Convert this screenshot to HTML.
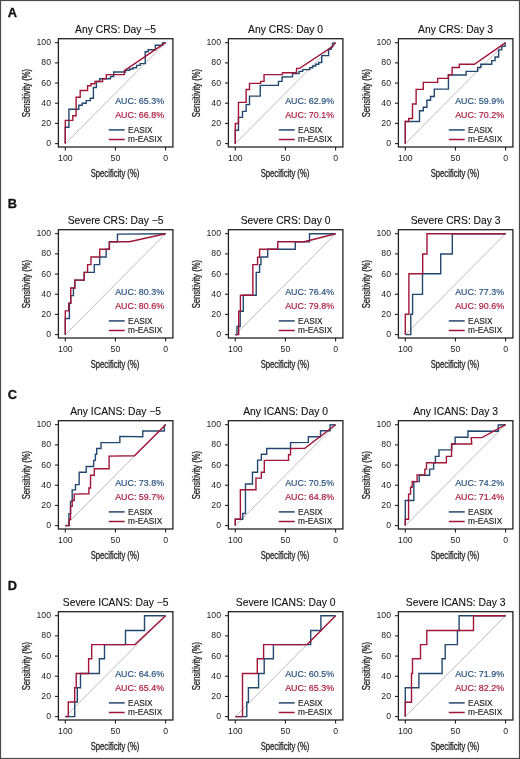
<!DOCTYPE html><html><head><meta charset="utf-8"><style>html,body{margin:0;padding:0;background:#fff}svg{display:block;will-change:transform}text{font-family:"Liberation Sans",sans-serif;font-variant-ligatures:none}</style></head><body>
<svg width="520" height="759" viewBox="0 0 520 759">
<rect x="0" y="0" width="520" height="759" fill="#fff"/>
<rect x="0.5" y="0.5" width="519" height="758" fill="none" stroke="#4a4a4a" stroke-width="1.2"/>
<text x="7.8" y="16.60" font-size="12.8" font-weight="700" fill="#111" stroke="#111" stroke-width="0.3">A</text>
<line x1="65.30" y1="143.60" x2="165.60" y2="42.70" stroke="#bababa" stroke-width="1.0"/><polyline points="65.30,143.60 65.30,127.30 68.90,127.30 68.90,109.30 78.80,109.30 78.80,105.30 82.20,105.30 82.20,103.30 86.20,103.30 86.20,100.60 90.30,100.60 90.30,98.30 93.40,98.30 93.40,87.50 96.40,87.50 96.40,81.50 99.60,81.50 99.60,78.80 110.50,78.80 110.50,76.50 113.70,76.50 113.70,72.00 125.50,72.00 125.50,70.20 129.70,70.20 129.70,69.00 132.90,69.00 132.90,67.80 136.60,67.80 136.60,65.40 140.20,65.40 140.20,63.60 145.20,63.60 145.20,51.70 148.10,51.70 148.10,49.70 155.30,49.70 155.30,45.20 162.40,45.20 162.40,43.00 165.60,42.70" fill="none" stroke="#23486f" stroke-width="1.4" stroke-linejoin="miter"/><polyline points="65.30,143.60 65.30,120.40 72.80,120.40 72.80,115.80 76.10,115.80 76.10,97.20 80.20,97.20 80.20,90.50 87.60,90.50 87.60,85.80 91.00,85.80 91.00,83.80 95.00,83.80 95.00,81.50 102.60,81.50 102.60,78.90 106.30,78.90 106.30,74.60 124.40,74.60 124.40,70.60 165.60,42.70" fill="none" stroke="#a01538" stroke-width="1.4" stroke-linejoin="miter"/><rect x="58.40" y="38.70" width="114.50" height="108.30" fill="none" stroke="#222222" stroke-width="1.3"/><line x1="55.00" y1="143.60" x2="58.40" y2="143.60" stroke="#222222" stroke-width="1.1"/><text x="51.00" y="146.10" font-size="8.7" text-anchor="end" fill="#222">0</text><line x1="55.00" y1="123.42" x2="58.40" y2="123.42" stroke="#222222" stroke-width="1.1"/><text x="51.00" y="125.92" font-size="8.7" text-anchor="end" fill="#222">20</text><line x1="55.00" y1="103.24" x2="58.40" y2="103.24" stroke="#222222" stroke-width="1.1"/><text x="51.00" y="105.74" font-size="8.7" text-anchor="end" fill="#222">40</text><line x1="55.00" y1="83.06" x2="58.40" y2="83.06" stroke="#222222" stroke-width="1.1"/><text x="51.00" y="85.56" font-size="8.7" text-anchor="end" fill="#222">60</text><line x1="55.00" y1="62.88" x2="58.40" y2="62.88" stroke="#222222" stroke-width="1.1"/><text x="51.00" y="65.38" font-size="8.7" text-anchor="end" fill="#222">80</text><line x1="55.00" y1="42.70" x2="58.40" y2="42.70" stroke="#222222" stroke-width="1.1"/><text x="51.00" y="45.20" font-size="8.7" text-anchor="end" fill="#222">100</text><line x1="65.30" y1="147.00" x2="65.30" y2="150.50" stroke="#222222" stroke-width="1.1"/><text x="65.30" y="161.00" font-size="8.7" text-anchor="middle" fill="#222">100</text><line x1="115.45" y1="147.00" x2="115.45" y2="150.50" stroke="#222222" stroke-width="1.1"/><text x="115.45" y="161.00" font-size="8.7" text-anchor="middle" fill="#222">50</text><line x1="165.60" y1="147.00" x2="165.60" y2="150.50" stroke="#222222" stroke-width="1.1"/><text x="165.60" y="161.00" font-size="8.7" text-anchor="middle" fill="#222">0</text><text x="115.60" y="32.60" font-size="10.3" text-anchor="middle" fill="#111" stroke="#111" stroke-width="0.12">Any CRS: Day −5</text><text transform="translate(115.00,176.50) scale(0.73,1)" font-size="10.5" text-anchor="middle" fill="#222" stroke="#222" stroke-width="0.3">Specificity (%)</text><text transform="translate(29.60,93.10) rotate(-90) scale(0.73,1)" font-size="10.5" text-anchor="middle" fill="#222" stroke="#222" stroke-width="0.3">Sensitivity (%)</text><text x="115.20" y="104.00" font-size="8.9" fill="#2b5380" stroke="#2b5380" stroke-width="0.2">AUC: 65.3%</text><text x="115.20" y="117.70" font-size="8.9" fill="#ac1c42" stroke="#ac1c42" stroke-width="0.2">AUC: 66.8%</text><line x1="108.80" y1="129.90" x2="124.70" y2="129.90" stroke="#23486f" stroke-width="1.5"/><line x1="108.80" y1="139.50" x2="124.70" y2="139.50" stroke="#a01538" stroke-width="1.5"/><text x="128.10" y="132.60" font-size="8.3" fill="#222" stroke="#222" stroke-width="0.15">EASIX</text><text x="128.10" y="142.20" font-size="8.3" fill="#222" stroke="#222" stroke-width="0.15">m-EASIX</text>
<line x1="235.30" y1="143.60" x2="335.60" y2="42.70" stroke="#bababa" stroke-width="1.0"/><polyline points="235.30,143.65 235.30,130.19 238.46,130.19 238.46,117.41 242.50,117.41 242.50,111.35 246.13,111.35 246.13,104.62 249.49,104.62 249.49,96.15 260.26,96.15 260.26,85.37 278.43,85.37 278.43,81.33 282.07,81.33 282.07,77.03 292.51,76.73 292.51,73.51 299.07,73.51 299.07,71.38 302.64,71.38 302.64,69.59 309.79,69.59 309.79,67.79 312.78,67.79 312.78,66.01 315.76,66.01 315.76,64.22 318.74,64.22 318.74,62.44 321.72,62.44 321.72,55.64 328.63,55.64 328.63,49.32 331.25,49.32 331.25,46.94 332.44,46.94 332.44,43.37 335.54,42.65" fill="none" stroke="#23486f" stroke-width="1.4" stroke-linejoin="miter"/><polyline points="235.30,143.65 235.30,123.46 238.46,123.46 238.46,102.33 246.13,102.33 246.13,89.55 249.49,89.55 249.49,83.35 260.67,83.35 260.67,81.33 264.04,81.33 264.04,74.60 282.47,74.60 282.47,72.73 296.33,72.73 296.68,68.39 299.66,68.39 332.44,46.58 335.54,42.65" fill="none" stroke="#a01538" stroke-width="1.4" stroke-linejoin="miter"/><rect x="228.40" y="38.70" width="114.50" height="108.30" fill="none" stroke="#222222" stroke-width="1.3"/><line x1="225.00" y1="143.60" x2="228.40" y2="143.60" stroke="#222222" stroke-width="1.1"/><text x="221.00" y="146.10" font-size="8.7" text-anchor="end" fill="#222">0</text><line x1="225.00" y1="123.42" x2="228.40" y2="123.42" stroke="#222222" stroke-width="1.1"/><text x="221.00" y="125.92" font-size="8.7" text-anchor="end" fill="#222">20</text><line x1="225.00" y1="103.24" x2="228.40" y2="103.24" stroke="#222222" stroke-width="1.1"/><text x="221.00" y="105.74" font-size="8.7" text-anchor="end" fill="#222">40</text><line x1="225.00" y1="83.06" x2="228.40" y2="83.06" stroke="#222222" stroke-width="1.1"/><text x="221.00" y="85.56" font-size="8.7" text-anchor="end" fill="#222">60</text><line x1="225.00" y1="62.88" x2="228.40" y2="62.88" stroke="#222222" stroke-width="1.1"/><text x="221.00" y="65.38" font-size="8.7" text-anchor="end" fill="#222">80</text><line x1="225.00" y1="42.70" x2="228.40" y2="42.70" stroke="#222222" stroke-width="1.1"/><text x="221.00" y="45.20" font-size="8.7" text-anchor="end" fill="#222">100</text><line x1="235.30" y1="147.00" x2="235.30" y2="150.50" stroke="#222222" stroke-width="1.1"/><text x="235.30" y="161.00" font-size="8.7" text-anchor="middle" fill="#222">100</text><line x1="285.45" y1="147.00" x2="285.45" y2="150.50" stroke="#222222" stroke-width="1.1"/><text x="285.45" y="161.00" font-size="8.7" text-anchor="middle" fill="#222">50</text><line x1="335.60" y1="147.00" x2="335.60" y2="150.50" stroke="#222222" stroke-width="1.1"/><text x="335.60" y="161.00" font-size="8.7" text-anchor="middle" fill="#222">0</text><text x="285.60" y="32.60" font-size="10.3" text-anchor="middle" fill="#111" stroke="#111" stroke-width="0.12">Any CRS: Day 0</text><text transform="translate(285.00,176.50) scale(0.73,1)" font-size="10.5" text-anchor="middle" fill="#222" stroke="#222" stroke-width="0.3">Specificity (%)</text><text transform="translate(199.60,93.10) rotate(-90) scale(0.73,1)" font-size="10.5" text-anchor="middle" fill="#222" stroke="#222" stroke-width="0.3">Sensitivity (%)</text><text x="285.20" y="104.00" font-size="8.9" fill="#2b5380" stroke="#2b5380" stroke-width="0.2">AUC: 62.9%</text><text x="285.20" y="117.70" font-size="8.9" fill="#ac1c42" stroke="#ac1c42" stroke-width="0.2">AUC: 70.1%</text><line x1="278.80" y1="129.90" x2="294.70" y2="129.90" stroke="#23486f" stroke-width="1.5"/><line x1="278.80" y1="139.50" x2="294.70" y2="139.50" stroke="#a01538" stroke-width="1.5"/><text x="298.10" y="132.60" font-size="8.3" fill="#222" stroke="#222" stroke-width="0.15">EASIX</text><text x="298.10" y="142.20" font-size="8.3" fill="#222" stroke="#222" stroke-width="0.15">m-EASIX</text>
<line x1="405.30" y1="143.60" x2="505.60" y2="42.70" stroke="#bababa" stroke-width="1.0"/><polyline points="405.30,143.65 405.30,121.44 419.49,121.44 419.49,110.68 423.26,110.68 423.26,107.32 426.89,107.32 426.89,100.18 430.54,100.18 430.54,96.55 434.30,96.55 434.30,89.14 448.43,89.14 448.43,75.01 466.09,74.95 466.09,71.38 477.66,71.38 477.66,67.56 480.76,67.56 480.76,64.22 491.72,64.22 491.72,60.65 495.06,60.65 495.06,57.07 498.63,57.07 498.63,49.91 501.85,49.91 501.85,46.34 505.07,46.34 505.07,43.37 505.54,42.65" fill="none" stroke="#23486f" stroke-width="1.4" stroke-linejoin="miter"/><polyline points="405.30,143.65 405.30,121.44 408.73,121.44 408.73,118.49 412.50,118.49 412.50,103.95 416.13,103.95 416.13,89.42 423.26,89.42 423.26,82.41 437.67,82.41 437.67,78.38 448.43,78.38 448.43,74.60 452.07,74.60 452.15,67.56 459.30,67.56 459.30,64.22 474.44,64.22 505.54,42.65" fill="none" stroke="#a01538" stroke-width="1.4" stroke-linejoin="miter"/><rect x="398.40" y="38.70" width="114.50" height="108.30" fill="none" stroke="#222222" stroke-width="1.3"/><line x1="395.00" y1="143.60" x2="398.40" y2="143.60" stroke="#222222" stroke-width="1.1"/><text x="391.00" y="146.10" font-size="8.7" text-anchor="end" fill="#222">0</text><line x1="395.00" y1="123.42" x2="398.40" y2="123.42" stroke="#222222" stroke-width="1.1"/><text x="391.00" y="125.92" font-size="8.7" text-anchor="end" fill="#222">20</text><line x1="395.00" y1="103.24" x2="398.40" y2="103.24" stroke="#222222" stroke-width="1.1"/><text x="391.00" y="105.74" font-size="8.7" text-anchor="end" fill="#222">40</text><line x1="395.00" y1="83.06" x2="398.40" y2="83.06" stroke="#222222" stroke-width="1.1"/><text x="391.00" y="85.56" font-size="8.7" text-anchor="end" fill="#222">60</text><line x1="395.00" y1="62.88" x2="398.40" y2="62.88" stroke="#222222" stroke-width="1.1"/><text x="391.00" y="65.38" font-size="8.7" text-anchor="end" fill="#222">80</text><line x1="395.00" y1="42.70" x2="398.40" y2="42.70" stroke="#222222" stroke-width="1.1"/><text x="391.00" y="45.20" font-size="8.7" text-anchor="end" fill="#222">100</text><line x1="405.30" y1="147.00" x2="405.30" y2="150.50" stroke="#222222" stroke-width="1.1"/><text x="405.30" y="161.00" font-size="8.7" text-anchor="middle" fill="#222">100</text><line x1="455.45" y1="147.00" x2="455.45" y2="150.50" stroke="#222222" stroke-width="1.1"/><text x="455.45" y="161.00" font-size="8.7" text-anchor="middle" fill="#222">50</text><line x1="505.60" y1="147.00" x2="505.60" y2="150.50" stroke="#222222" stroke-width="1.1"/><text x="505.60" y="161.00" font-size="8.7" text-anchor="middle" fill="#222">0</text><text x="455.60" y="32.60" font-size="10.3" text-anchor="middle" fill="#111" stroke="#111" stroke-width="0.12">Any CRS: Day 3</text><text transform="translate(455.00,176.50) scale(0.73,1)" font-size="10.5" text-anchor="middle" fill="#222" stroke="#222" stroke-width="0.3">Specificity (%)</text><text transform="translate(369.60,93.10) rotate(-90) scale(0.73,1)" font-size="10.5" text-anchor="middle" fill="#222" stroke="#222" stroke-width="0.3">Sensitivity (%)</text><text x="455.20" y="104.00" font-size="8.9" fill="#2b5380" stroke="#2b5380" stroke-width="0.2">AUC: 59.9%</text><text x="455.20" y="117.70" font-size="8.9" fill="#ac1c42" stroke="#ac1c42" stroke-width="0.2">AUC: 70.2%</text><line x1="448.80" y1="129.90" x2="464.70" y2="129.90" stroke="#23486f" stroke-width="1.5"/><line x1="448.80" y1="139.50" x2="464.70" y2="139.50" stroke="#a01538" stroke-width="1.5"/><text x="468.10" y="132.60" font-size="8.3" fill="#222" stroke="#222" stroke-width="0.15">EASIX</text><text x="468.10" y="142.20" font-size="8.3" fill="#222" stroke="#222" stroke-width="0.15">m-EASIX</text>
<text x="7.8" y="207.60" font-size="12.8" font-weight="700" fill="#111" stroke="#111" stroke-width="0.3">B</text>
<line x1="65.30" y1="334.60" x2="165.60" y2="233.70" stroke="#bababa" stroke-width="1.0"/><polyline points="65.30,334.65 65.30,318.51 69.40,318.51 69.40,303.29 70.75,303.29 70.75,295.62 73.44,295.62 73.44,287.95 74.79,287.95 74.79,280.14 84.21,280.14 84.21,272.33 94.30,272.33 94.30,264.67 99.68,264.67 99.68,257.00 106.14,257.00 106.14,249.19 109.37,249.19 109.37,241.78 117.45,241.78 117.45,234.11 165.60,233.70" fill="none" stroke="#23486f" stroke-width="1.4" stroke-linejoin="miter"/><polyline points="65.30,334.65 65.30,310.83 68.73,310.83 68.73,303.29 70.75,303.29 70.75,287.95 74.79,287.95 74.79,280.14 84.21,280.14 84.21,272.33 87.58,272.33 87.58,264.67 90.94,264.67 90.94,257.00 99.68,257.00 99.68,249.19 109.37,249.19 109.37,241.78 129.30,241.70 165.60,233.70" fill="none" stroke="#a01538" stroke-width="1.4" stroke-linejoin="miter"/><rect x="58.40" y="229.70" width="114.50" height="108.30" fill="none" stroke="#222222" stroke-width="1.3"/><line x1="55.00" y1="334.60" x2="58.40" y2="334.60" stroke="#222222" stroke-width="1.1"/><text x="51.00" y="337.10" font-size="8.7" text-anchor="end" fill="#222">0</text><line x1="55.00" y1="314.42" x2="58.40" y2="314.42" stroke="#222222" stroke-width="1.1"/><text x="51.00" y="316.92" font-size="8.7" text-anchor="end" fill="#222">20</text><line x1="55.00" y1="294.24" x2="58.40" y2="294.24" stroke="#222222" stroke-width="1.1"/><text x="51.00" y="296.74" font-size="8.7" text-anchor="end" fill="#222">40</text><line x1="55.00" y1="274.06" x2="58.40" y2="274.06" stroke="#222222" stroke-width="1.1"/><text x="51.00" y="276.56" font-size="8.7" text-anchor="end" fill="#222">60</text><line x1="55.00" y1="253.88" x2="58.40" y2="253.88" stroke="#222222" stroke-width="1.1"/><text x="51.00" y="256.38" font-size="8.7" text-anchor="end" fill="#222">80</text><line x1="55.00" y1="233.70" x2="58.40" y2="233.70" stroke="#222222" stroke-width="1.1"/><text x="51.00" y="236.20" font-size="8.7" text-anchor="end" fill="#222">100</text><line x1="65.30" y1="338.00" x2="65.30" y2="341.50" stroke="#222222" stroke-width="1.1"/><text x="65.30" y="352.00" font-size="8.7" text-anchor="middle" fill="#222">100</text><line x1="115.45" y1="338.00" x2="115.45" y2="341.50" stroke="#222222" stroke-width="1.1"/><text x="115.45" y="352.00" font-size="8.7" text-anchor="middle" fill="#222">50</text><line x1="165.60" y1="338.00" x2="165.60" y2="341.50" stroke="#222222" stroke-width="1.1"/><text x="165.60" y="352.00" font-size="8.7" text-anchor="middle" fill="#222">0</text><text x="115.60" y="223.60" font-size="10.3" text-anchor="middle" fill="#111" stroke="#111" stroke-width="0.12">Severe CRS: Day −5</text><text transform="translate(115.00,367.50) scale(0.73,1)" font-size="10.5" text-anchor="middle" fill="#222" stroke="#222" stroke-width="0.3">Specificity (%)</text><text transform="translate(29.60,284.10) rotate(-90) scale(0.73,1)" font-size="10.5" text-anchor="middle" fill="#222" stroke="#222" stroke-width="0.3">Sensitivity (%)</text><text x="115.20" y="295.00" font-size="8.9" fill="#2b5380" stroke="#2b5380" stroke-width="0.2">AUC: 80.3%</text><text x="115.20" y="308.70" font-size="8.9" fill="#ac1c42" stroke="#ac1c42" stroke-width="0.2">AUC: 80.6%</text><line x1="108.80" y1="320.90" x2="124.70" y2="320.90" stroke="#23486f" stroke-width="1.5"/><line x1="108.80" y1="330.50" x2="124.70" y2="330.50" stroke="#a01538" stroke-width="1.5"/><text x="128.10" y="323.60" font-size="8.3" fill="#222" stroke="#222" stroke-width="0.15">EASIX</text><text x="128.10" y="333.20" font-size="8.3" fill="#222" stroke="#222" stroke-width="0.15">m-EASIX</text>
<line x1="235.30" y1="334.60" x2="335.60" y2="233.70" stroke="#bababa" stroke-width="1.0"/><polyline points="235.30,334.60 237.00,334.60 237.00,326.50 240.20,326.50 240.20,311.20 243.30,311.20 243.30,295.20 256.22,295.22 256.22,272.33 259.59,272.33 259.59,264.67 260.94,264.67 260.94,257.00 267.67,257.00 267.67,249.19 295.26,249.19 295.26,241.78 309.50,241.70 309.50,233.80 335.60,233.70" fill="none" stroke="#23486f" stroke-width="1.4" stroke-linejoin="miter"/><polyline points="235.30,334.60 238.70,334.60 238.70,311.30 240.40,311.30 240.40,295.20 252.86,295.22 252.86,264.67 257.58,264.67 257.58,257.26 259.59,257.26 259.59,249.19 277.76,249.19 277.76,241.78 304.00,241.70 309.30,240.50 335.60,233.70" fill="none" stroke="#a01538" stroke-width="1.4" stroke-linejoin="miter"/><rect x="228.40" y="229.70" width="114.50" height="108.30" fill="none" stroke="#222222" stroke-width="1.3"/><line x1="225.00" y1="334.60" x2="228.40" y2="334.60" stroke="#222222" stroke-width="1.1"/><text x="221.00" y="337.10" font-size="8.7" text-anchor="end" fill="#222">0</text><line x1="225.00" y1="314.42" x2="228.40" y2="314.42" stroke="#222222" stroke-width="1.1"/><text x="221.00" y="316.92" font-size="8.7" text-anchor="end" fill="#222">20</text><line x1="225.00" y1="294.24" x2="228.40" y2="294.24" stroke="#222222" stroke-width="1.1"/><text x="221.00" y="296.74" font-size="8.7" text-anchor="end" fill="#222">40</text><line x1="225.00" y1="274.06" x2="228.40" y2="274.06" stroke="#222222" stroke-width="1.1"/><text x="221.00" y="276.56" font-size="8.7" text-anchor="end" fill="#222">60</text><line x1="225.00" y1="253.88" x2="228.40" y2="253.88" stroke="#222222" stroke-width="1.1"/><text x="221.00" y="256.38" font-size="8.7" text-anchor="end" fill="#222">80</text><line x1="225.00" y1="233.70" x2="228.40" y2="233.70" stroke="#222222" stroke-width="1.1"/><text x="221.00" y="236.20" font-size="8.7" text-anchor="end" fill="#222">100</text><line x1="235.30" y1="338.00" x2="235.30" y2="341.50" stroke="#222222" stroke-width="1.1"/><text x="235.30" y="352.00" font-size="8.7" text-anchor="middle" fill="#222">100</text><line x1="285.45" y1="338.00" x2="285.45" y2="341.50" stroke="#222222" stroke-width="1.1"/><text x="285.45" y="352.00" font-size="8.7" text-anchor="middle" fill="#222">50</text><line x1="335.60" y1="338.00" x2="335.60" y2="341.50" stroke="#222222" stroke-width="1.1"/><text x="335.60" y="352.00" font-size="8.7" text-anchor="middle" fill="#222">0</text><text x="285.60" y="223.60" font-size="10.3" text-anchor="middle" fill="#111" stroke="#111" stroke-width="0.12">Severe CRS: Day 0</text><text transform="translate(285.00,367.50) scale(0.73,1)" font-size="10.5" text-anchor="middle" fill="#222" stroke="#222" stroke-width="0.3">Specificity (%)</text><text transform="translate(199.60,284.10) rotate(-90) scale(0.73,1)" font-size="10.5" text-anchor="middle" fill="#222" stroke="#222" stroke-width="0.3">Sensitivity (%)</text><text x="285.20" y="295.00" font-size="8.9" fill="#2b5380" stroke="#2b5380" stroke-width="0.2">AUC: 76.4%</text><text x="285.20" y="308.70" font-size="8.9" fill="#ac1c42" stroke="#ac1c42" stroke-width="0.2">AUC: 79.8%</text><line x1="278.80" y1="320.90" x2="294.70" y2="320.90" stroke="#23486f" stroke-width="1.5"/><line x1="278.80" y1="330.50" x2="294.70" y2="330.50" stroke="#a01538" stroke-width="1.5"/><text x="298.10" y="323.60" font-size="8.3" fill="#222" stroke="#222" stroke-width="0.15">EASIX</text><text x="298.10" y="333.20" font-size="8.3" fill="#222" stroke="#222" stroke-width="0.15">m-EASIX</text>
<line x1="405.30" y1="334.60" x2="505.60" y2="233.70" stroke="#bababa" stroke-width="1.0"/><polyline points="405.30,334.60 410.80,334.60 410.80,314.30 412.60,314.30 412.60,294.40 422.50,294.40 422.50,273.80 440.70,273.80 440.70,254.00 452.30,254.00 452.30,233.70 505.60,233.70" fill="none" stroke="#23486f" stroke-width="1.4" stroke-linejoin="miter"/><polyline points="405.30,334.60 405.30,314.30 408.90,314.30 408.90,273.80 422.70,273.80 422.70,254.00 427.00,254.00 427.00,233.70 505.60,233.70" fill="none" stroke="#a01538" stroke-width="1.4" stroke-linejoin="miter"/><rect x="398.40" y="229.70" width="114.50" height="108.30" fill="none" stroke="#222222" stroke-width="1.3"/><line x1="395.00" y1="334.60" x2="398.40" y2="334.60" stroke="#222222" stroke-width="1.1"/><text x="391.00" y="337.10" font-size="8.7" text-anchor="end" fill="#222">0</text><line x1="395.00" y1="314.42" x2="398.40" y2="314.42" stroke="#222222" stroke-width="1.1"/><text x="391.00" y="316.92" font-size="8.7" text-anchor="end" fill="#222">20</text><line x1="395.00" y1="294.24" x2="398.40" y2="294.24" stroke="#222222" stroke-width="1.1"/><text x="391.00" y="296.74" font-size="8.7" text-anchor="end" fill="#222">40</text><line x1="395.00" y1="274.06" x2="398.40" y2="274.06" stroke="#222222" stroke-width="1.1"/><text x="391.00" y="276.56" font-size="8.7" text-anchor="end" fill="#222">60</text><line x1="395.00" y1="253.88" x2="398.40" y2="253.88" stroke="#222222" stroke-width="1.1"/><text x="391.00" y="256.38" font-size="8.7" text-anchor="end" fill="#222">80</text><line x1="395.00" y1="233.70" x2="398.40" y2="233.70" stroke="#222222" stroke-width="1.1"/><text x="391.00" y="236.20" font-size="8.7" text-anchor="end" fill="#222">100</text><line x1="405.30" y1="338.00" x2="405.30" y2="341.50" stroke="#222222" stroke-width="1.1"/><text x="405.30" y="352.00" font-size="8.7" text-anchor="middle" fill="#222">100</text><line x1="455.45" y1="338.00" x2="455.45" y2="341.50" stroke="#222222" stroke-width="1.1"/><text x="455.45" y="352.00" font-size="8.7" text-anchor="middle" fill="#222">50</text><line x1="505.60" y1="338.00" x2="505.60" y2="341.50" stroke="#222222" stroke-width="1.1"/><text x="505.60" y="352.00" font-size="8.7" text-anchor="middle" fill="#222">0</text><text x="455.60" y="223.60" font-size="10.3" text-anchor="middle" fill="#111" stroke="#111" stroke-width="0.12">Severe CRS: Day 3</text><text transform="translate(455.00,367.50) scale(0.73,1)" font-size="10.5" text-anchor="middle" fill="#222" stroke="#222" stroke-width="0.3">Specificity (%)</text><text transform="translate(369.60,284.10) rotate(-90) scale(0.73,1)" font-size="10.5" text-anchor="middle" fill="#222" stroke="#222" stroke-width="0.3">Sensitivity (%)</text><text x="455.20" y="295.00" font-size="8.9" fill="#2b5380" stroke="#2b5380" stroke-width="0.2">AUC: 77.3%</text><text x="455.20" y="308.70" font-size="8.9" fill="#ac1c42" stroke="#ac1c42" stroke-width="0.2">AUC: 90.6%</text><line x1="448.80" y1="320.90" x2="464.70" y2="320.90" stroke="#23486f" stroke-width="1.5"/><line x1="448.80" y1="330.50" x2="464.70" y2="330.50" stroke="#a01538" stroke-width="1.5"/><text x="468.10" y="323.60" font-size="8.3" fill="#222" stroke="#222" stroke-width="0.15">EASIX</text><text x="468.10" y="333.20" font-size="8.3" fill="#222" stroke="#222" stroke-width="0.15">m-EASIX</text>
<text x="7.8" y="398.60" font-size="12.8" font-weight="700" fill="#111" stroke="#111" stroke-width="0.3">C</text>
<line x1="65.30" y1="525.60" x2="165.60" y2="424.70" stroke="#bababa" stroke-width="1.0"/><polyline points="65.30,525.62 68.90,525.62 68.90,513.62 70.55,513.62 70.55,501.42 72.19,501.42 72.19,489.89 75.49,489.89 75.49,484.61 79.12,484.61 79.23,472.22 86.22,472.22 86.22,466.43 93.62,466.43 93.62,460.38 95.38,460.38 95.38,454.32 96.72,454.32 96.72,448.53 101.03,448.53 101.03,442.61 119.87,442.61 119.87,436.42 142.78,436.69 142.78,430.97 164.24,430.97 164.24,425.37 165.60,424.70" fill="none" stroke="#23486f" stroke-width="1.4" stroke-linejoin="miter"/><polyline points="65.30,525.62 69.23,525.62 69.23,519.22 70.55,519.22 70.55,506.37 72.19,506.37 72.19,500.44 74.18,500.44 74.18,494.17 88.92,493.76 88.92,487.96 90.54,487.96 90.54,475.18 94.30,475.18 94.30,468.72 109.11,468.72 109.11,456.07 134.44,455.76 165.60,424.70" fill="none" stroke="#a01538" stroke-width="1.4" stroke-linejoin="miter"/><rect x="58.40" y="420.70" width="114.50" height="108.30" fill="none" stroke="#222222" stroke-width="1.3"/><line x1="55.00" y1="525.60" x2="58.40" y2="525.60" stroke="#222222" stroke-width="1.1"/><text x="51.00" y="528.10" font-size="8.7" text-anchor="end" fill="#222">0</text><line x1="55.00" y1="505.42" x2="58.40" y2="505.42" stroke="#222222" stroke-width="1.1"/><text x="51.00" y="507.92" font-size="8.7" text-anchor="end" fill="#222">20</text><line x1="55.00" y1="485.24" x2="58.40" y2="485.24" stroke="#222222" stroke-width="1.1"/><text x="51.00" y="487.74" font-size="8.7" text-anchor="end" fill="#222">40</text><line x1="55.00" y1="465.06" x2="58.40" y2="465.06" stroke="#222222" stroke-width="1.1"/><text x="51.00" y="467.56" font-size="8.7" text-anchor="end" fill="#222">60</text><line x1="55.00" y1="444.88" x2="58.40" y2="444.88" stroke="#222222" stroke-width="1.1"/><text x="51.00" y="447.38" font-size="8.7" text-anchor="end" fill="#222">80</text><line x1="55.00" y1="424.70" x2="58.40" y2="424.70" stroke="#222222" stroke-width="1.1"/><text x="51.00" y="427.20" font-size="8.7" text-anchor="end" fill="#222">100</text><line x1="65.30" y1="529.00" x2="65.30" y2="532.50" stroke="#222222" stroke-width="1.1"/><text x="65.30" y="543.00" font-size="8.7" text-anchor="middle" fill="#222">100</text><line x1="115.45" y1="529.00" x2="115.45" y2="532.50" stroke="#222222" stroke-width="1.1"/><text x="115.45" y="543.00" font-size="8.7" text-anchor="middle" fill="#222">50</text><line x1="165.60" y1="529.00" x2="165.60" y2="532.50" stroke="#222222" stroke-width="1.1"/><text x="165.60" y="543.00" font-size="8.7" text-anchor="middle" fill="#222">0</text><text x="115.60" y="414.60" font-size="10.3" text-anchor="middle" fill="#111" stroke="#111" stroke-width="0.12">Any ICANS: Day −5</text><text transform="translate(115.00,558.50) scale(0.73,1)" font-size="10.5" text-anchor="middle" fill="#222" stroke="#222" stroke-width="0.3">Specificity (%)</text><text transform="translate(29.60,475.10) rotate(-90) scale(0.73,1)" font-size="10.5" text-anchor="middle" fill="#222" stroke="#222" stroke-width="0.3">Sensitivity (%)</text><text x="115.20" y="486.00" font-size="8.9" fill="#2b5380" stroke="#2b5380" stroke-width="0.2">AUC: 73.8%</text><text x="115.20" y="499.70" font-size="8.9" fill="#ac1c42" stroke="#ac1c42" stroke-width="0.2">AUC: 59.7%</text><line x1="108.80" y1="511.90" x2="124.70" y2="511.90" stroke="#23486f" stroke-width="1.5"/><line x1="108.80" y1="521.50" x2="124.70" y2="521.50" stroke="#a01538" stroke-width="1.5"/><text x="128.10" y="514.60" font-size="8.3" fill="#222" stroke="#222" stroke-width="0.15">EASIX</text><text x="128.10" y="524.20" font-size="8.3" fill="#222" stroke="#222" stroke-width="0.15">m-EASIX</text>
<line x1="235.30" y1="525.60" x2="335.60" y2="424.70" stroke="#bababa" stroke-width="1.0"/><polyline points="235.30,525.60 235.30,519.30 242.70,519.30 242.70,513.50 245.50,513.50 245.46,483.93 252.46,483.93 252.46,472.22 257.58,472.22 257.58,460.11 261.34,460.11 261.34,454.32 266.72,454.32 266.72,448.53 290.55,448.53 290.55,442.61 308.37,442.41 308.37,436.69 320.52,436.69 320.52,430.72 330.06,430.72 330.06,425.00 335.60,424.70" fill="none" stroke="#23486f" stroke-width="1.4" stroke-linejoin="miter"/><polyline points="235.30,525.60 235.30,519.30 240.40,519.30 240.35,489.72 255.96,489.72 255.96,478.15 261.34,478.15 261.34,472.22 264.30,472.22 264.30,460.38 288.53,460.38 288.53,454.73 290.55,454.73 290.55,448.53 304.79,448.37 335.60,424.70" fill="none" stroke="#a01538" stroke-width="1.4" stroke-linejoin="miter"/><rect x="228.40" y="420.70" width="114.50" height="108.30" fill="none" stroke="#222222" stroke-width="1.3"/><line x1="225.00" y1="525.60" x2="228.40" y2="525.60" stroke="#222222" stroke-width="1.1"/><text x="221.00" y="528.10" font-size="8.7" text-anchor="end" fill="#222">0</text><line x1="225.00" y1="505.42" x2="228.40" y2="505.42" stroke="#222222" stroke-width="1.1"/><text x="221.00" y="507.92" font-size="8.7" text-anchor="end" fill="#222">20</text><line x1="225.00" y1="485.24" x2="228.40" y2="485.24" stroke="#222222" stroke-width="1.1"/><text x="221.00" y="487.74" font-size="8.7" text-anchor="end" fill="#222">40</text><line x1="225.00" y1="465.06" x2="228.40" y2="465.06" stroke="#222222" stroke-width="1.1"/><text x="221.00" y="467.56" font-size="8.7" text-anchor="end" fill="#222">60</text><line x1="225.00" y1="444.88" x2="228.40" y2="444.88" stroke="#222222" stroke-width="1.1"/><text x="221.00" y="447.38" font-size="8.7" text-anchor="end" fill="#222">80</text><line x1="225.00" y1="424.70" x2="228.40" y2="424.70" stroke="#222222" stroke-width="1.1"/><text x="221.00" y="427.20" font-size="8.7" text-anchor="end" fill="#222">100</text><line x1="235.30" y1="529.00" x2="235.30" y2="532.50" stroke="#222222" stroke-width="1.1"/><text x="235.30" y="543.00" font-size="8.7" text-anchor="middle" fill="#222">100</text><line x1="285.45" y1="529.00" x2="285.45" y2="532.50" stroke="#222222" stroke-width="1.1"/><text x="285.45" y="543.00" font-size="8.7" text-anchor="middle" fill="#222">50</text><line x1="335.60" y1="529.00" x2="335.60" y2="532.50" stroke="#222222" stroke-width="1.1"/><text x="335.60" y="543.00" font-size="8.7" text-anchor="middle" fill="#222">0</text><text x="285.60" y="414.60" font-size="10.3" text-anchor="middle" fill="#111" stroke="#111" stroke-width="0.12">Any ICANS: Day 0</text><text transform="translate(285.00,558.50) scale(0.73,1)" font-size="10.5" text-anchor="middle" fill="#222" stroke="#222" stroke-width="0.3">Specificity (%)</text><text transform="translate(199.60,475.10) rotate(-90) scale(0.73,1)" font-size="10.5" text-anchor="middle" fill="#222" stroke="#222" stroke-width="0.3">Sensitivity (%)</text><text x="285.20" y="486.00" font-size="8.9" fill="#2b5380" stroke="#2b5380" stroke-width="0.2">AUC: 70.5%</text><text x="285.20" y="499.70" font-size="8.9" fill="#ac1c42" stroke="#ac1c42" stroke-width="0.2">AUC: 64.8%</text><line x1="278.80" y1="511.90" x2="294.70" y2="511.90" stroke="#23486f" stroke-width="1.5"/><line x1="278.80" y1="521.50" x2="294.70" y2="521.50" stroke="#a01538" stroke-width="1.5"/><text x="298.10" y="514.60" font-size="8.3" fill="#222" stroke="#222" stroke-width="0.15">EASIX</text><text x="298.10" y="524.20" font-size="8.3" fill="#222" stroke="#222" stroke-width="0.15">m-EASIX</text>
<line x1="405.30" y1="525.60" x2="505.60" y2="424.70" stroke="#bababa" stroke-width="1.0"/><polyline points="405.30,525.62 405.30,500.44 413.85,500.44 413.85,481.64 419.23,481.64 419.23,475.18 429.59,475.18 429.59,469.13 433.62,469.13 433.62,462.80 435.38,462.80 435.38,456.34 439.01,456.34 439.01,449.87 451.80,449.87 451.80,443.96 455.16,443.96 455.16,437.23 467.95,437.23 467.95,431.04 498.27,431.32 498.27,425.00 505.60,424.70" fill="none" stroke="#23486f" stroke-width="1.4" stroke-linejoin="miter"/><polyline points="405.30,525.62 405.30,519.22 408.57,519.22 408.57,494.17 410.55,494.17 410.55,487.25 412.19,487.25 412.19,481.45 417.08,481.64 417.08,474.91 424.88,474.91 424.88,469.13 426.49,469.13 426.49,462.80 446.41,462.80 446.41,456.34 451.53,456.34 451.53,443.96 471.72,443.96 471.22,437.64 481.94,437.64 505.60,424.70" fill="none" stroke="#a01538" stroke-width="1.4" stroke-linejoin="miter"/><rect x="398.40" y="420.70" width="114.50" height="108.30" fill="none" stroke="#222222" stroke-width="1.3"/><line x1="395.00" y1="525.60" x2="398.40" y2="525.60" stroke="#222222" stroke-width="1.1"/><text x="391.00" y="528.10" font-size="8.7" text-anchor="end" fill="#222">0</text><line x1="395.00" y1="505.42" x2="398.40" y2="505.42" stroke="#222222" stroke-width="1.1"/><text x="391.00" y="507.92" font-size="8.7" text-anchor="end" fill="#222">20</text><line x1="395.00" y1="485.24" x2="398.40" y2="485.24" stroke="#222222" stroke-width="1.1"/><text x="391.00" y="487.74" font-size="8.7" text-anchor="end" fill="#222">40</text><line x1="395.00" y1="465.06" x2="398.40" y2="465.06" stroke="#222222" stroke-width="1.1"/><text x="391.00" y="467.56" font-size="8.7" text-anchor="end" fill="#222">60</text><line x1="395.00" y1="444.88" x2="398.40" y2="444.88" stroke="#222222" stroke-width="1.1"/><text x="391.00" y="447.38" font-size="8.7" text-anchor="end" fill="#222">80</text><line x1="395.00" y1="424.70" x2="398.40" y2="424.70" stroke="#222222" stroke-width="1.1"/><text x="391.00" y="427.20" font-size="8.7" text-anchor="end" fill="#222">100</text><line x1="405.30" y1="529.00" x2="405.30" y2="532.50" stroke="#222222" stroke-width="1.1"/><text x="405.30" y="543.00" font-size="8.7" text-anchor="middle" fill="#222">100</text><line x1="455.45" y1="529.00" x2="455.45" y2="532.50" stroke="#222222" stroke-width="1.1"/><text x="455.45" y="543.00" font-size="8.7" text-anchor="middle" fill="#222">50</text><line x1="505.60" y1="529.00" x2="505.60" y2="532.50" stroke="#222222" stroke-width="1.1"/><text x="505.60" y="543.00" font-size="8.7" text-anchor="middle" fill="#222">0</text><text x="455.60" y="414.60" font-size="10.3" text-anchor="middle" fill="#111" stroke="#111" stroke-width="0.12">Any ICANS: Day 3</text><text transform="translate(455.00,558.50) scale(0.73,1)" font-size="10.5" text-anchor="middle" fill="#222" stroke="#222" stroke-width="0.3">Specificity (%)</text><text transform="translate(369.60,475.10) rotate(-90) scale(0.73,1)" font-size="10.5" text-anchor="middle" fill="#222" stroke="#222" stroke-width="0.3">Sensitivity (%)</text><text x="455.20" y="486.00" font-size="8.9" fill="#2b5380" stroke="#2b5380" stroke-width="0.2">AUC: 74.2%</text><text x="455.20" y="499.70" font-size="8.9" fill="#ac1c42" stroke="#ac1c42" stroke-width="0.2">AUC: 71.4%</text><line x1="448.80" y1="511.90" x2="464.70" y2="511.90" stroke="#23486f" stroke-width="1.5"/><line x1="448.80" y1="521.50" x2="464.70" y2="521.50" stroke="#a01538" stroke-width="1.5"/><text x="468.10" y="514.60" font-size="8.3" fill="#222" stroke="#222" stroke-width="0.15">EASIX</text><text x="468.10" y="524.20" font-size="8.3" fill="#222" stroke="#222" stroke-width="0.15">m-EASIX</text>
<text x="7.8" y="589.60" font-size="12.8" font-weight="700" fill="#111" stroke="#111" stroke-width="0.3">D</text>
<line x1="65.30" y1="716.60" x2="165.60" y2="615.70" stroke="#bababa" stroke-width="1.0"/><polyline points="65.30,716.60 74.70,716.60 74.70,702.00 77.30,702.00 77.30,687.70 80.50,687.70 80.50,673.50 99.40,673.50 99.40,658.80 104.50,658.80 104.50,644.60 125.50,644.60 125.50,630.50 144.50,630.50 144.50,615.70 165.60,615.70" fill="none" stroke="#23486f" stroke-width="1.4" stroke-linejoin="miter"/><polyline points="65.30,716.60 68.30,716.60 68.30,702.00 74.70,702.00 74.70,687.70 76.20,687.70 76.20,673.50 88.60,673.50 88.60,658.80 91.70,658.80 91.70,644.60 135.00,644.60 165.60,615.70" fill="none" stroke="#a01538" stroke-width="1.4" stroke-linejoin="miter"/><rect x="58.40" y="611.70" width="114.50" height="108.30" fill="none" stroke="#222222" stroke-width="1.3"/><line x1="55.00" y1="716.60" x2="58.40" y2="716.60" stroke="#222222" stroke-width="1.1"/><text x="51.00" y="719.10" font-size="8.7" text-anchor="end" fill="#222">0</text><line x1="55.00" y1="696.42" x2="58.40" y2="696.42" stroke="#222222" stroke-width="1.1"/><text x="51.00" y="698.92" font-size="8.7" text-anchor="end" fill="#222">20</text><line x1="55.00" y1="676.24" x2="58.40" y2="676.24" stroke="#222222" stroke-width="1.1"/><text x="51.00" y="678.74" font-size="8.7" text-anchor="end" fill="#222">40</text><line x1="55.00" y1="656.06" x2="58.40" y2="656.06" stroke="#222222" stroke-width="1.1"/><text x="51.00" y="658.56" font-size="8.7" text-anchor="end" fill="#222">60</text><line x1="55.00" y1="635.88" x2="58.40" y2="635.88" stroke="#222222" stroke-width="1.1"/><text x="51.00" y="638.38" font-size="8.7" text-anchor="end" fill="#222">80</text><line x1="55.00" y1="615.70" x2="58.40" y2="615.70" stroke="#222222" stroke-width="1.1"/><text x="51.00" y="618.20" font-size="8.7" text-anchor="end" fill="#222">100</text><line x1="65.30" y1="720.00" x2="65.30" y2="723.50" stroke="#222222" stroke-width="1.1"/><text x="65.30" y="734.00" font-size="8.7" text-anchor="middle" fill="#222">100</text><line x1="115.45" y1="720.00" x2="115.45" y2="723.50" stroke="#222222" stroke-width="1.1"/><text x="115.45" y="734.00" font-size="8.7" text-anchor="middle" fill="#222">50</text><line x1="165.60" y1="720.00" x2="165.60" y2="723.50" stroke="#222222" stroke-width="1.1"/><text x="165.60" y="734.00" font-size="8.7" text-anchor="middle" fill="#222">0</text><text x="115.60" y="605.60" font-size="10.3" text-anchor="middle" fill="#111" stroke="#111" stroke-width="0.12">Severe ICANS: Day −5</text><text transform="translate(115.00,749.50) scale(0.73,1)" font-size="10.5" text-anchor="middle" fill="#222" stroke="#222" stroke-width="0.3">Specificity (%)</text><text transform="translate(29.60,666.10) rotate(-90) scale(0.73,1)" font-size="10.5" text-anchor="middle" fill="#222" stroke="#222" stroke-width="0.3">Sensitivity (%)</text><text x="115.20" y="677.00" font-size="8.9" fill="#2b5380" stroke="#2b5380" stroke-width="0.2">AUC: 64.6%</text><text x="115.20" y="690.70" font-size="8.9" fill="#ac1c42" stroke="#ac1c42" stroke-width="0.2">AUC: 65.4%</text><line x1="108.80" y1="702.90" x2="124.70" y2="702.90" stroke="#23486f" stroke-width="1.5"/><line x1="108.80" y1="712.50" x2="124.70" y2="712.50" stroke="#a01538" stroke-width="1.5"/><text x="128.10" y="705.60" font-size="8.3" fill="#222" stroke="#222" stroke-width="0.15">EASIX</text><text x="128.10" y="715.20" font-size="8.3" fill="#222" stroke="#222" stroke-width="0.15">m-EASIX</text>
<line x1="235.30" y1="716.60" x2="335.60" y2="615.70" stroke="#bababa" stroke-width="1.0"/><polyline points="235.30,716.60 246.80,716.60 246.80,702.20 248.40,702.20 248.40,687.70 258.60,687.70 258.60,673.50 264.20,673.50 264.20,658.80 273.40,658.80 273.40,644.60 310.70,644.60 310.70,630.50 320.90,630.50 320.90,615.70 335.60,615.70" fill="none" stroke="#23486f" stroke-width="1.4" stroke-linejoin="miter"/><polyline points="235.30,716.60 242.50,716.60 242.50,673.50 257.30,673.50 257.30,658.80 263.60,658.80 263.60,644.60 307.10,644.60 335.60,615.70" fill="none" stroke="#a01538" stroke-width="1.4" stroke-linejoin="miter"/><rect x="228.40" y="611.70" width="114.50" height="108.30" fill="none" stroke="#222222" stroke-width="1.3"/><line x1="225.00" y1="716.60" x2="228.40" y2="716.60" stroke="#222222" stroke-width="1.1"/><text x="221.00" y="719.10" font-size="8.7" text-anchor="end" fill="#222">0</text><line x1="225.00" y1="696.42" x2="228.40" y2="696.42" stroke="#222222" stroke-width="1.1"/><text x="221.00" y="698.92" font-size="8.7" text-anchor="end" fill="#222">20</text><line x1="225.00" y1="676.24" x2="228.40" y2="676.24" stroke="#222222" stroke-width="1.1"/><text x="221.00" y="678.74" font-size="8.7" text-anchor="end" fill="#222">40</text><line x1="225.00" y1="656.06" x2="228.40" y2="656.06" stroke="#222222" stroke-width="1.1"/><text x="221.00" y="658.56" font-size="8.7" text-anchor="end" fill="#222">60</text><line x1="225.00" y1="635.88" x2="228.40" y2="635.88" stroke="#222222" stroke-width="1.1"/><text x="221.00" y="638.38" font-size="8.7" text-anchor="end" fill="#222">80</text><line x1="225.00" y1="615.70" x2="228.40" y2="615.70" stroke="#222222" stroke-width="1.1"/><text x="221.00" y="618.20" font-size="8.7" text-anchor="end" fill="#222">100</text><line x1="235.30" y1="720.00" x2="235.30" y2="723.50" stroke="#222222" stroke-width="1.1"/><text x="235.30" y="734.00" font-size="8.7" text-anchor="middle" fill="#222">100</text><line x1="285.45" y1="720.00" x2="285.45" y2="723.50" stroke="#222222" stroke-width="1.1"/><text x="285.45" y="734.00" font-size="8.7" text-anchor="middle" fill="#222">50</text><line x1="335.60" y1="720.00" x2="335.60" y2="723.50" stroke="#222222" stroke-width="1.1"/><text x="335.60" y="734.00" font-size="8.7" text-anchor="middle" fill="#222">0</text><text x="285.60" y="605.60" font-size="10.3" text-anchor="middle" fill="#111" stroke="#111" stroke-width="0.12">Severe ICANS: Day 0</text><text transform="translate(285.00,749.50) scale(0.73,1)" font-size="10.5" text-anchor="middle" fill="#222" stroke="#222" stroke-width="0.3">Specificity (%)</text><text transform="translate(199.60,666.10) rotate(-90) scale(0.73,1)" font-size="10.5" text-anchor="middle" fill="#222" stroke="#222" stroke-width="0.3">Sensitivity (%)</text><text x="285.20" y="677.00" font-size="8.9" fill="#2b5380" stroke="#2b5380" stroke-width="0.2">AUC: 60.5%</text><text x="285.20" y="690.70" font-size="8.9" fill="#ac1c42" stroke="#ac1c42" stroke-width="0.2">AUC: 65.3%</text><line x1="278.80" y1="702.90" x2="294.70" y2="702.90" stroke="#23486f" stroke-width="1.5"/><line x1="278.80" y1="712.50" x2="294.70" y2="712.50" stroke="#a01538" stroke-width="1.5"/><text x="298.10" y="705.60" font-size="8.3" fill="#222" stroke="#222" stroke-width="0.15">EASIX</text><text x="298.10" y="715.20" font-size="8.3" fill="#222" stroke="#222" stroke-width="0.15">m-EASIX</text>
<line x1="405.30" y1="716.60" x2="505.60" y2="615.70" stroke="#bababa" stroke-width="1.0"/><polyline points="405.30,716.60 405.30,687.70 418.90,687.70 418.90,673.50 442.10,673.50 442.10,658.80 445.20,658.80 445.20,644.60 457.40,644.60 457.40,630.50 459.10,630.50 459.10,615.70 505.60,615.70" fill="none" stroke="#23486f" stroke-width="1.4" stroke-linejoin="miter"/><polyline points="405.30,716.60 405.30,702.20 411.50,702.20 411.50,673.50 412.50,673.50 412.50,658.80 420.50,658.80 420.50,644.60 426.80,644.60 426.80,630.50 473.50,630.50 473.50,615.70 505.60,615.70" fill="none" stroke="#a01538" stroke-width="1.4" stroke-linejoin="miter"/><rect x="398.40" y="611.70" width="114.50" height="108.30" fill="none" stroke="#222222" stroke-width="1.3"/><line x1="395.00" y1="716.60" x2="398.40" y2="716.60" stroke="#222222" stroke-width="1.1"/><text x="391.00" y="719.10" font-size="8.7" text-anchor="end" fill="#222">0</text><line x1="395.00" y1="696.42" x2="398.40" y2="696.42" stroke="#222222" stroke-width="1.1"/><text x="391.00" y="698.92" font-size="8.7" text-anchor="end" fill="#222">20</text><line x1="395.00" y1="676.24" x2="398.40" y2="676.24" stroke="#222222" stroke-width="1.1"/><text x="391.00" y="678.74" font-size="8.7" text-anchor="end" fill="#222">40</text><line x1="395.00" y1="656.06" x2="398.40" y2="656.06" stroke="#222222" stroke-width="1.1"/><text x="391.00" y="658.56" font-size="8.7" text-anchor="end" fill="#222">60</text><line x1="395.00" y1="635.88" x2="398.40" y2="635.88" stroke="#222222" stroke-width="1.1"/><text x="391.00" y="638.38" font-size="8.7" text-anchor="end" fill="#222">80</text><line x1="395.00" y1="615.70" x2="398.40" y2="615.70" stroke="#222222" stroke-width="1.1"/><text x="391.00" y="618.20" font-size="8.7" text-anchor="end" fill="#222">100</text><line x1="405.30" y1="720.00" x2="405.30" y2="723.50" stroke="#222222" stroke-width="1.1"/><text x="405.30" y="734.00" font-size="8.7" text-anchor="middle" fill="#222">100</text><line x1="455.45" y1="720.00" x2="455.45" y2="723.50" stroke="#222222" stroke-width="1.1"/><text x="455.45" y="734.00" font-size="8.7" text-anchor="middle" fill="#222">50</text><line x1="505.60" y1="720.00" x2="505.60" y2="723.50" stroke="#222222" stroke-width="1.1"/><text x="505.60" y="734.00" font-size="8.7" text-anchor="middle" fill="#222">0</text><text x="455.60" y="605.60" font-size="10.3" text-anchor="middle" fill="#111" stroke="#111" stroke-width="0.12">Severe ICANS: Day 3</text><text transform="translate(455.00,749.50) scale(0.73,1)" font-size="10.5" text-anchor="middle" fill="#222" stroke="#222" stroke-width="0.3">Specificity (%)</text><text transform="translate(369.60,666.10) rotate(-90) scale(0.73,1)" font-size="10.5" text-anchor="middle" fill="#222" stroke="#222" stroke-width="0.3">Sensitivity (%)</text><text x="455.20" y="677.00" font-size="8.9" fill="#2b5380" stroke="#2b5380" stroke-width="0.2">AUC: 71.9%</text><text x="455.20" y="690.70" font-size="8.9" fill="#ac1c42" stroke="#ac1c42" stroke-width="0.2">AUC: 82.2%</text><line x1="448.80" y1="702.90" x2="464.70" y2="702.90" stroke="#23486f" stroke-width="1.5"/><line x1="448.80" y1="712.50" x2="464.70" y2="712.50" stroke="#a01538" stroke-width="1.5"/><text x="468.10" y="705.60" font-size="8.3" fill="#222" stroke="#222" stroke-width="0.15">EASIX</text><text x="468.10" y="715.20" font-size="8.3" fill="#222" stroke="#222" stroke-width="0.15">m-EASIX</text>
</svg></body></html>
